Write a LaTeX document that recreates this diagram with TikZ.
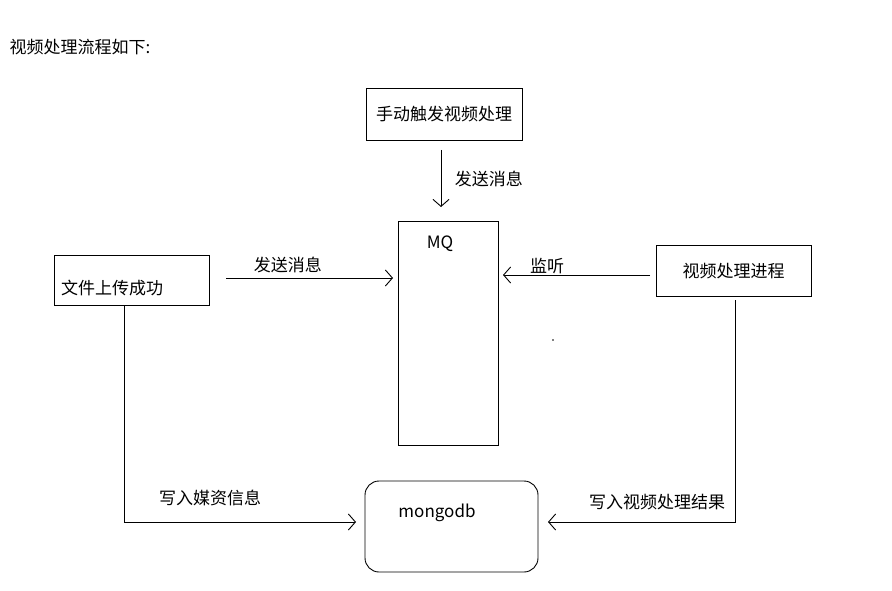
\documentclass[tikz,border=0pt]{standalone}
\usepackage{fontspec}
\setmainfont{Noto Sans CJK SC}
\usetikzlibrary{arrows.meta}
\tikzset{
  box/.style={draw, line width=0.9pt, inner sep=0pt},
  flow/.style={line width=0.9pt, -{Straight Barb[length=7pt,width=16pt,line width=0.9pt]}},
  lbl/.style={font=\fontsize{17pt}{20pt}\selectfont}
}
\begin{document}
\begin{tikzpicture}[x=1pt, y=-1pt]
\useasboundingbox[fill=white] (0,0) rectangle (892,591);
\node[lbl, anchor=west] (title) at (6,47) {视频处理流程如下:};
% boxes
\node[box, lbl, minimum width=156pt, minimum height=52pt] (manual) at (444,114) {手动触发视频处理};
\node[box, minimum width=100pt, minimum height=224pt] (mq) at (448,333) {};
\node[lbl] (mqtext) at (440,244) {MQ};
\node[box, minimum width=155pt, minimum height=50pt] (upload) at (131.5,280) {};
\node[lbl] (uploadtext) at (112,288) {文件上传成功};
\node[box, lbl, minimum width=155pt, minimum height=51pt] (worker) at (733.5,271) {视频处理进程};
\node[box, rounded corners=14pt, minimum width=173pt, minimum height=91pt] (mongo) at (451.5,526.5) {};
\node[lbl] (mongotext) at (437,513) {mongodb};
% connectors
\coordinate (a1) at (441,150);
\coordinate (a2) at (441,207);
\draw[flow] (a1) -- (a2) node[lbl, midway, right=10pt] {发送消息};
\coordinate (b1) at (226,278);
\coordinate (b2) at (393,278);
\draw[flow] (b1) -- (b2) node[lbl, pos=0.37, above=1pt] {发送消息};
\coordinate (c1) at (650,275);
\coordinate (c2) at (503,275);
\draw[flow] (c1) -- (c2) node[lbl, pos=0.7, above=-3pt] {监听};
\coordinate (d1) at (124,305);
\coordinate (d2) at (124,522);
\coordinate (d3) at (356,522);
\draw[flow] (d1) -- (d2) -- (d3);
\node[lbl] (dlab) at (210,498) {写入媒资信息};
\coordinate (e1) at (735,300);
\coordinate (e2) at (735,522);
\coordinate (e3) at (548,522);
\draw[flow] (e1) -- (e2) -- (e3);
\node[lbl] (elab) at (657,502) {写入视频处理结果};
\fill (553,340) circle (0.8pt);
\end{tikzpicture}
\end{document}
